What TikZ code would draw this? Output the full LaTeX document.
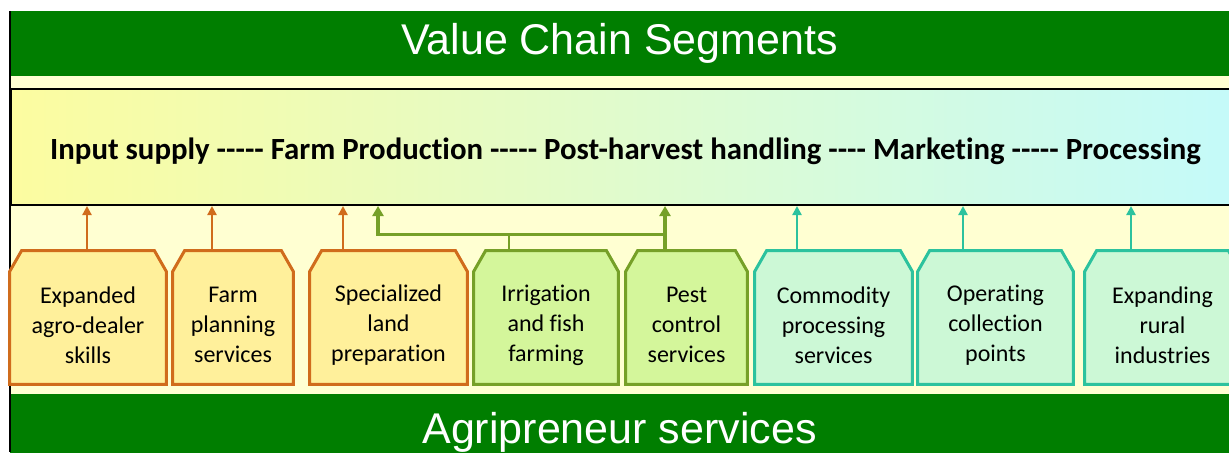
\documentclass[tikz,border=0pt]{standalone}
\usepackage{fontspec}
\setmainfont{Carlito}[Ligatures=CommonOff]
\newfontfamily\bandfont{Liberation Sans}
\usetikzlibrary{arrows.meta}

\definecolor{bandgreen}{RGB}{0,126,0}
\definecolor{cream}{RGB}{255,255,210}
\definecolor{chainleft}{RGB}{252,252,160}
\definecolor{chainright}{RGB}{196,250,250}
\definecolor{lineorange}{RGB}{208,108,28}
\definecolor{fillorange}{RGB}{255,240,155}
\definecolor{linegreen}{RGB}{118,160,40}
\definecolor{fillgreen}{RGB}{212,246,155}
\definecolor{lineteal}{RGB}{44,194,158}
\definecolor{fillteal}{RGB}{204,248,214}

% hyphen that does not turn into an en/em dash
\newcommand{\dsh}{-\kern0pt}

\tikzset{
    band/.style={fill=bandgreen, text=white, inner sep=0pt, font=\bandfont\fontsize{21.5}{25}\selectfont},
    slot/.style={inner sep=0pt, minimum height=66.5pt},
    svctext/.style={align=center, inner sep=0pt, font=\fontsize{12}{15}\selectfont},
    svcbox/.style={line width=1.5pt, line join=miter},
    feed/.style={-{Triangle[length=4.5pt,width=4.5pt]}, line width=1.3pt},
    busline/.style={color=linegreen, line width=1.7pt}
}

\begin{document}
\begin{tikzpicture}[x=0.5pt, y=-0.5pt]
    \useasboundingbox (0,0) rectangle (1229,452);
    \fill[white] (0,0) rectangle (1229,452);
    \fill[cream] (10,76) rectangle (1229,394);

    % Green bands
    \node[band, minimum width=609.5pt, minimum height=32.5pt] (title) at (619.5,43.5) {Value Chain Segments};
    \node[band, minimum width=609.5pt, minimum height=38pt] (footer) at (619.5,432) {Agripreneur services};

    % Value chain bar
    \node[draw=black, line width=1pt, left color=chainleft, right color=chainright,
          minimum width=614.5pt, minimum height=58pt, inner sep=0pt, text height=15pt, text depth=3pt,
          font=\bfseries\fontsize{15.4}{18}\selectfont] (chain) at (625.5,147)
        {Input supply \dsh\dsh\dsh\dsh- Farm Production \dsh\dsh\dsh\dsh- Post-harvest handling \dsh\dsh\dsh- Marketing \dsh\dsh\dsh\dsh- Processing};
    \draw[line width=1pt] (10,11) -- (10,452);

    % Service boxes
    \foreach \nm/\xl/\xr/\kind/\txt in {
        b1/10/166/orange/{Expanded\\agro-dealer\\skills},
        b2/173/293/orange/{Farm\\planning\\services},
        b3/310/467/orange/{Specialized\\land\\preparation},
        b4/474/618/green/{Irrigation\\and fish\\farming},
        b5/626/747/green/{Pest\\control\\services},
        b6/755/912/teal/{Commodity\\processing\\services},
        b7/918/1073/teal/{Operating\\collection\\points},
        b8/1085/1240/teal/{Expanding\\rural\\industries}}{
        \pgfmathsetmacro{\boxw}{(\xr-\xl)*0.5}
        \node[slot, minimum width=\boxw pt] (\nm) at ({(\xl+\xr)/2},317.5) {};
        \draw[svcbox, draw=line\kind, fill=fill\kind] (\nm.south west) -- ([yshift=-10.5pt]\nm.north west)
            -- ([xshift=6pt]\nm.north west) -- ([xshift=-6pt]\nm.north east)
            -- ([yshift=-10.5pt]\nm.north east) -- (\nm.south east) -- cycle;
        \node[svctext] (\nm-txt) at ([yshift=-3.75pt]\nm.center) {\txt};
    }

    % Single feeds into the bar
    \foreach \nm/\dx/\kind in {b1/-0.5pt/orange, b2/-10.5pt/orange, b3/-22.75pt/orange,
                               b6/-18.25pt/teal, b7/-16.25pt/teal, b8/-15.75pt/teal}{
        \coordinate (\nm-foot) at ([xshift=\dx]\nm.north);
        \draw[feed, color=line\kind] (\nm-foot) -- (\nm-foot |- chain.south);
    }

    % Shared green feed
    \coordinate (b4-foot) at ([xshift=-18.5pt]b4.north);
    \coordinate (b5-foot) at ([xshift=-10.75pt]b5.north);
    \coordinate (bus) at ([yshift=8pt]b5-foot);
    \coordinate (bus-end) at ([xshift=-5.25pt,yshift=8pt]b3.north);
    \draw[busline, -{Triangle[length=5pt,width=5.5pt]}] (b5-foot) -- (b5-foot |- chain.south);
    \draw[busline, line width=1.1pt] (b4-foot) -- (b4-foot |- bus);
    \draw[busline, -{Triangle[length=5pt,width=5.5pt]}] (bus) -- (bus-end) -- (bus-end |- chain.south);
\end{tikzpicture}
\end{document}
